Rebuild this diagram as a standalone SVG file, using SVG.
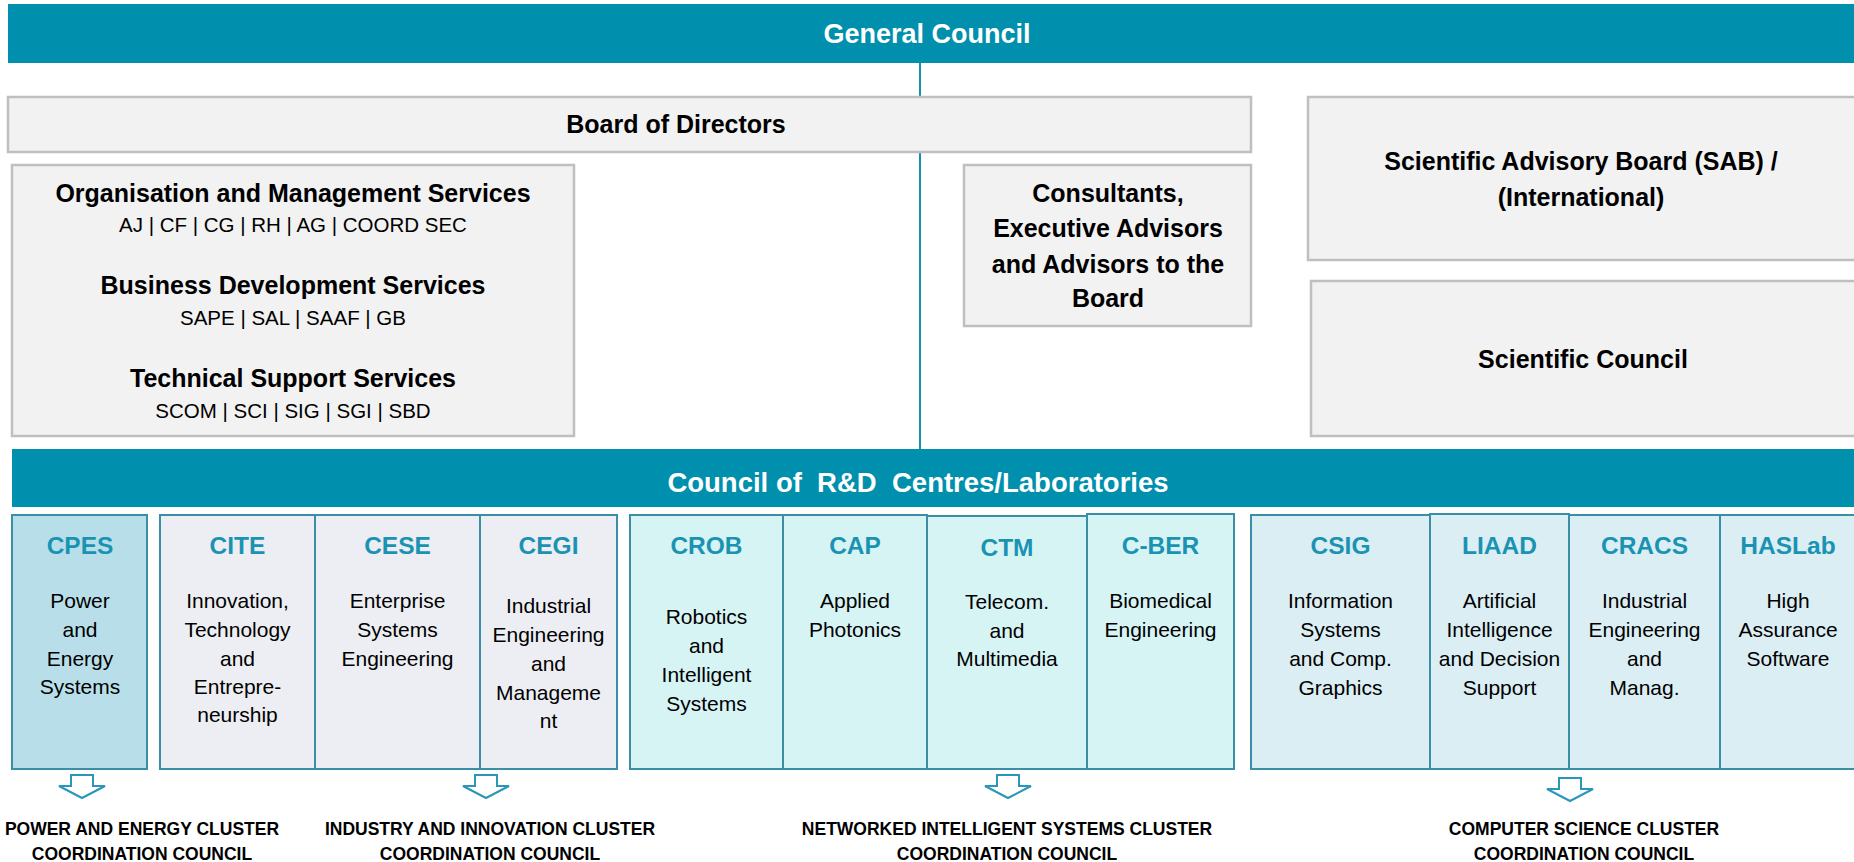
<svg xmlns="http://www.w3.org/2000/svg" width="1854" height="862" viewBox="0 0 1854 862">
<style>
text{font-family:"Liberation Sans",Arial,sans-serif;text-anchor:middle;fill:#000}
.hb{font-weight:bold;font-size:25px}
.hw{font-weight:bold;fill:#fff;white-space:pre}
.sm{font-size:20.5px}
.gray{fill:#f2f2f2;stroke:#bfbfbf;stroke-width:2.5}
.bar{fill:#008fad}
.lab{stroke:#3a8ea6;stroke-width:2}
.c1{fill:#b8dfe9}.c2{fill:#eceef3}.c3{fill:#d7f4f5}.c4{fill:#dbeef4}
.lt{font-weight:bold;font-size:24.5px;fill:#1a93b3}
.ld{font-size:21px}
.cl{font-weight:bold;font-size:17.5px}
.arr{fill:#fff;stroke:#2a96b8;stroke-width:2;stroke-linejoin:miter}
</style>
<g id="connectors">
<line x1="920" y1="62" x2="920" y2="449" stroke="#1a8fab" stroke-width="2"/>
</g>
<g id="general-council">
<rect class="bar" x="8" y="4" width="1846" height="59"/>
<text class="hw" x="927" y="43" font-size="27">General Council</text>
</g>
<g id="board">
<rect class="gray" x="8" y="97" width="1243" height="55"/>
<text class="hb" x="676" y="133">Board of Directors</text>
</g>
<g id="services">
<rect class="gray" x="12" y="165" width="562" height="271"/>
<text class="hb" x="293" y="202">Organisation and Management Services</text>
<text class="sm" x="293" y="232">AJ | CF | CG | RH | AG | COORD SEC</text>
<text class="hb" x="293" y="294">Business Development Services</text>
<text class="sm" x="293" y="325">SAPE | SAL | SAAF | GB</text>
<text class="hb" x="293" y="387">Technical Support Services</text>
<text class="sm" x="293" y="418">SCOM | SCI | SIG | SGI | SBD</text>
</g>
<g id="consultants">
<rect class="gray" x="964" y="165" width="287" height="161"/>
<text class="hb" x="1108" y="202" font-size="24.5">Consultants,</text>
<text class="hb" x="1108" y="237" font-size="24.5">Executive Advisors</text>
<text class="hb" x="1108" y="273" font-size="24.5">and Advisors to the</text>
<text class="hb" x="1108" y="307" font-size="24.5">Board</text>
</g>
<g id="sab">
<rect class="gray" x="1308" y="97" width="550" height="163"/>
<text class="hb" x="1581" y="170">Scientific Advisory Board (SAB) /</text>
<text class="hb" x="1581" y="206">(International)</text>
</g>
<g id="scientific-council">
<rect class="gray" x="1311" y="281" width="547" height="155"/>
<text class="hb" x="1583" y="368">Scientific Council</text>
</g>
<g id="council-rd">
<rect class="bar" x="12" y="449" width="1842" height="58"/>
<text class="hw" x="918" y="492" font-size="27.5">Council of  R&amp;D  Centres/Laboratories</text>
</g>
<g id="cpes">
<rect class="lab c1" x="12" y="515" width="135" height="254"/>
<text class="lt" x="80" y="554">CPES</text>
<text class="ld" x="80" y="608">Power</text>
<text class="ld" x="80" y="637">and</text>
<text class="ld" x="80" y="666">Energy</text>
<text class="ld" x="80" y="694">Systems</text>
</g>
<g id="cite">
<rect class="lab c2" x="160" y="515" width="155" height="254"/>
<text class="lt" x="237.5" y="554">CITE</text>
<text class="ld" x="237.5" y="608">Innovation,</text>
<text class="ld" x="237.5" y="637">Technology</text>
<text class="ld" x="237.5" y="666">and</text>
<text class="ld" x="237.5" y="694">Entrepre-</text>
<text class="ld" x="237.5" y="722">neurship</text>
</g>
<g id="cese">
<rect class="lab c2" x="315" y="515" width="165" height="254"/>
<text class="lt" x="397.5" y="554">CESE</text>
<text class="ld" x="397.5" y="608">Enterprise</text>
<text class="ld" x="397.5" y="637">Systems</text>
<text class="ld" x="397.5" y="666">Engineering</text>
</g>
<g id="cegi">
<rect class="lab c2" x="480" y="515" width="137" height="254"/>
<text class="lt" x="548.5" y="554">CEGI</text>
<text class="ld" x="548.5" y="613">Industrial</text>
<text class="ld" x="548.5" y="642">Engineering</text>
<text class="ld" x="548.5" y="671">and</text>
<text class="ld" x="548.5" y="700">Manageme</text>
<text class="ld" x="548.5" y="728">nt</text>
</g>
<g id="crob">
<rect class="lab c3" x="630" y="515" width="153" height="254"/>
<text class="lt" x="706.5" y="554">CROB</text>
<text class="ld" x="706.5" y="624">Robotics</text>
<text class="ld" x="706.5" y="653">and</text>
<text class="ld" x="706.5" y="682">Intelligent</text>
<text class="ld" x="706.5" y="711">Systems</text>
</g>
<g id="cap">
<rect class="lab c3" x="783" y="515" width="144" height="254"/>
<text class="lt" x="855" y="554">CAP</text>
<text class="ld" x="855" y="608">Applied</text>
<text class="ld" x="855" y="637">Photonics</text>
</g>
<g id="ctm">
<rect class="lab c3" x="927" y="516" width="160" height="253"/>
<text class="lt" x="1007" y="556">CTM</text>
<text class="ld" x="1007" y="609">Telecom.</text>
<text class="ld" x="1007" y="638">and</text>
<text class="ld" x="1007" y="666">Multimedia</text>
</g>
<g id="cber">
<rect class="lab c3" x="1087" y="514" width="147" height="255"/>
<text class="lt" x="1160.5" y="554">C-BER</text>
<text class="ld" x="1160.5" y="608">Biomedical</text>
<text class="ld" x="1160.5" y="637">Engineering</text>
</g>
<g id="csig">
<rect class="lab c4" x="1251" y="515" width="179" height="254"/>
<text class="lt" x="1340.5" y="554">CSIG</text>
<text class="ld" x="1340.5" y="608">Information</text>
<text class="ld" x="1340.5" y="637">Systems</text>
<text class="ld" x="1340.5" y="666">and Comp.</text>
<text class="ld" x="1340.5" y="695">Graphics</text>
</g>
<g id="liaad">
<rect class="lab c4" x="1430" y="514" width="139" height="255"/>
<text class="lt" x="1499.5" y="554">LIAAD</text>
<text class="ld" x="1499.5" y="608">Artificial</text>
<text class="ld" x="1499.5" y="637">Intelligence</text>
<text class="ld" x="1499.5" y="666">and Decision</text>
<text class="ld" x="1499.5" y="695">Support</text>
</g>
<g id="cracs">
<rect class="lab c4" x="1569" y="515" width="151" height="254"/>
<text class="lt" x="1644.5" y="554">CRACS</text>
<text class="ld" x="1644.5" y="608">Industrial</text>
<text class="ld" x="1644.5" y="637">Engineering</text>
<text class="ld" x="1644.5" y="666">and</text>
<text class="ld" x="1644.5" y="695">Manag.</text>
</g>
<g id="haslab">
<rect class="lab c4" x="1720" y="515" width="140" height="254"/>
<text class="lt" x="1788" y="554">HASLab</text>
<text class="ld" x="1788" y="608">High</text>
<text class="ld" x="1788" y="637">Assurance</text>
<text class="ld" x="1788" y="666">Software</text>
</g>
<g id="cluster-power">
<path class="arr" d="M71 775H93V786H105L82 798L59 786H71Z"/>
<text class="cl" x="142" y="835">POWER AND ENERGY CLUSTER</text>
<text class="cl" x="142" y="860">COORDINATION COUNCIL</text>
</g>
<g id="cluster-industry">
<path class="arr" d="M475 775H497V786H509L486 798L463 786H475Z"/>
<text class="cl" x="490" y="835">INDUSTRY AND INNOVATION CLUSTER</text>
<text class="cl" x="490" y="860">COORDINATION COUNCIL</text>
</g>
<g id="cluster-networked">
<path class="arr" d="M997 775H1019V786H1031L1008 798L985 786H997Z"/>
<text class="cl" x="1007" y="835">NETWORKED INTELLIGENT SYSTEMS CLUSTER</text>
<text class="cl" x="1007" y="860">COORDINATION COUNCIL</text>
</g>
<g id="cluster-cs">
<path class="arr" d="M1559 778H1581V789H1593L1570 801L1547 789H1559Z"/>
<text class="cl" x="1584" y="835">COMPUTER SCIENCE CLUSTER</text>
<text class="cl" x="1584" y="860">COORDINATION COUNCIL</text>
</g>
</svg>
